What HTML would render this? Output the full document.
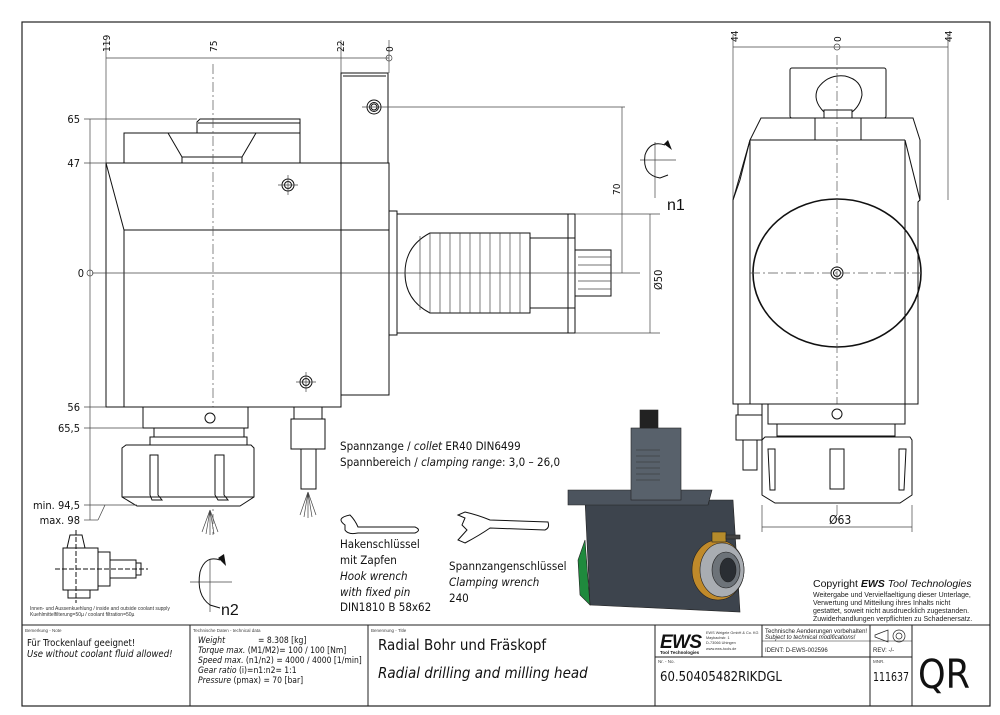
<!DOCTYPE html>
<html><head><meta charset="utf-8"><style>
html,body{margin:0;padding:0;background:#fff;}
svg{display:block;font-family:"Liberation Sans",sans-serif;}
.l{stroke:#111;stroke-width:1;fill:none}
.f{stroke:#111;stroke-width:1;fill:#fff}
.t{stroke:#444;stroke-width:0.7;fill:none}
.c{stroke:#555;stroke-width:0.7;fill:none;stroke-dasharray:10,3,2,3}
.n{font-family:"DejaVu Sans Condensed","Liberation Sans Narrow","Liberation Sans",sans-serif;fill:#111}
</style></head><body>
<svg width="1000" height="715" viewBox="0 0 1000 715" xmlns="http://www.w3.org/2000/svg">
<rect x="22" y="22" width="968" height="684" fill="none" stroke="#222" stroke-width="1.2"/>

<!-- ========== FRONT VIEW ========== -->
<line class="t" x1="106" y1="58" x2="389" y2="58"/>
<line class="t" x1="106" y1="40" x2="106" y2="163"/>
<line class="t" x1="341" y1="40" x2="341" y2="73"/>
<line class="t" x1="389" y1="40" x2="389" y2="73"/>
<circle cx="389" cy="58" r="3" class="t"/>
<g class="n" font-size="10">
<text transform="translate(110,52) rotate(-90)">119</text>
<text transform="translate(217,52) rotate(-90)">75</text>
<text transform="translate(344,52) rotate(-90)">22</text>
<text transform="translate(393,52) rotate(-90)">0</text>
</g>
<rect class="f" x="341" y="73" width="47" height="90"/>
<line class="l" x1="343" y1="76" x2="386" y2="76"/>
<circle cx="374" cy="107" r="7" class="l"/><circle cx="374" cy="107" r="4.5" class="l"/><circle cx="374" cy="107" r="3" class="l"/>
<line class="t" x1="362" y1="107" x2="625" y2="107"/>
<rect class="f" x="124" y="133" width="176" height="30"/>
<path class="f" d="M197 133 V122 L200 119 H300 V133 Z"/>
<line class="l" x1="198" y1="123" x2="300" y2="123"/>
<path class="l" d="M168 133 L182 157 H242 L256 133"/>
<line class="l" x1="182" y1="157" x2="182" y2="163"/><line class="l" x1="242" y1="157" x2="242" y2="163"/>
<path class="f" d="M106 163 H389 V395 H341 V407 H106 Z"/>
<path class="l" d="M106 163 L124 230 V407"/>
<line class="l" x1="124" y1="230" x2="389" y2="230"/>
<line class="l" x1="341" y1="163" x2="341" y2="395"/>
<circle cx="288" cy="185" r="6" class="l"/><circle cx="288" cy="185" r="3.5" class="l"/>
<line class="t" x1="278" y1="185" x2="298" y2="185"/><line class="t" x1="288" y1="175" x2="288" y2="195"/>
<circle cx="306" cy="382" r="6" class="l"/><circle cx="306" cy="382" r="3.5" class="l"/>
<line class="t" x1="296" y1="382" x2="316" y2="382"/><line class="t" x1="306" y1="372" x2="306" y2="392"/>
<path class="f" d="M389 211 H397 V335 H389 Z"/>
<rect class="f" x="397" y="214" width="178" height="119"/>
<line class="l" x1="568" y1="214" x2="568" y2="333"/>
<path class="f" d="M430 233 H530 V313 H430 Q405 300 405 273 Q405 246 430 233 Z"/>
<g class="t">
<line x1="420" y1="236" x2="420" y2="310"/><line x1="430" y1="233" x2="430" y2="313"/><line x1="440" y1="233" x2="440" y2="313"/><line x1="450" y1="233" x2="450" y2="313"/><line x1="460" y1="233" x2="460" y2="313"/><line x1="470" y1="233" x2="470" y2="313"/><line x1="480" y1="233" x2="480" y2="313"/><line x1="490" y1="233" x2="490" y2="313"/><line x1="500" y1="233" x2="500" y2="313"/><line x1="510" y1="233" x2="510" y2="313"/><line x1="520" y1="233" x2="520" y2="313"/>
</g>
<line class="l" x1="530" y1="238" x2="575" y2="238"/><line class="l" x1="530" y1="308" x2="575" y2="308"/>
<rect class="f" x="575" y="250" width="36" height="46"/>
<g class="t"><line x1="578" y1="257" x2="611" y2="257"/><line x1="578" y1="265" x2="611" y2="265"/><line x1="578" y1="273" x2="611" y2="273"/><line x1="578" y1="281" x2="611" y2="281"/><line x1="578" y1="289" x2="611" y2="289"/></g>
<line class="c" x1="213" y1="64" x2="213" y2="535"/>
<line class="t" x1="92" y1="273" x2="640" y2="273"/>
<line class="t" x1="575" y1="214" x2="660" y2="214"/><line class="t" x1="575" y1="333" x2="660" y2="333"/>
<line class="t" x1="622" y1="107" x2="622" y2="273"/>
<line class="t" x1="650" y1="214" x2="650" y2="333"/>
<text class="n" font-size="10" transform="translate(620,195) rotate(-90)">70</text>
<text class="n" font-size="11" transform="translate(662,290) rotate(-90)">Ø50</text>
<line class="t" x1="640" y1="160" x2="676" y2="160"/><line class="t" x1="655" y1="142" x2="655" y2="198"/>
<path class="l" d="M665 145 Q650 140 645 155 Q642 175 660 178 L668 175"/>
<path d="M664 144 L672 150 L668 140 Z" fill="#111"/>
<text x="667" y="210" font-size="16" fill="#111">n1</text>
<rect class="f" x="143" y="407" width="105" height="21"/>
<circle cx="210" cy="418" r="5" class="l"/>
<rect class="f" x="154" y="428" width="90" height="9"/>
<rect class="f" x="150" y="437" width="97" height="8"/>
<path class="f" d="M122 448 L126 445 H251 L254 448 V497 L240 506 H137 L122 497 Z"/>
<line class="l" x1="122" y1="497" x2="254" y2="497"/>
<path class="l" d="M150 455 H158 V495 L162 500 H152 L150 495 Z"/>
<path class="l" d="M215 455 H224 V495 L228 500 H218 L215 495 Z"/>
<rect class="f" x="294" y="407" width="28" height="12"/>
<rect class="f" x="291" y="419" width="34" height="30"/>
<rect class="f" x="301" y="449" width="15" height="40"/>
<g class="t"><path d="M308 492 L300 515 M308 492 L304 517 M308 492 L308 518 M308 492 L312 517 M308 492 L316 515"/>
<path d="M210 510 L202 532 M210 510 L206 534 M210 510 L210 535 M210 510 L214 534 M210 510 L218 532"/></g>
<line class="t" x1="90" y1="119" x2="90" y2="520"/>
<g class="t"><line x1="84" y1="119" x2="197" y2="119"/><line x1="84" y1="163" x2="106" y2="163"/><line x1="84" y1="407" x2="106" y2="407"/><line x1="84" y1="428" x2="143" y2="428"/><line x1="84" y1="505" x2="137" y2="505"/><line x1="84" y1="520" x2="98" y2="520"/><line x1="98" y1="520" x2="105" y2="505"/></g>
<circle cx="90" cy="273" r="3" class="t"/>
<g class="n" font-size="11" text-anchor="end">
<text x="80" y="123">65</text><text x="80" y="167">47</text><text x="84" y="277">0</text>
<text x="80" y="411">56</text><text x="80" y="432">65,5</text>
<text x="80" y="509">min. 94,5</text><text x="80" y="524">max. 98</text>
</g>
<g class="n" font-size="11.5">
<text x="340" y="450">Spannzange / <tspan font-style="italic">collet</tspan>    ER40    DIN6499</text>
<text x="340" y="466">Spannbereich / <tspan font-style="italic">clamping range</tspan>: 3,0 – 26,0</text>
<text x="340" y="548">Hakenschlüssel</text>
<text x="340" y="564">mit Zapfen</text>
<text x="340" y="580" font-style="italic">Hook wrench</text>
<text x="340" y="596" font-style="italic">with fixed pin</text>
<text x="340" y="611">DIN1810  B  58x62</text>
<text x="449" y="570">Spannzangenschlüssel</text>
<text x="449" y="586" font-style="italic">Clamping wrench</text>
<text x="449" y="602">240</text>
</g>
<path class="l" d="M345 525 Q335 518 350 515 Q355 520 358 527 H415 Q422 530 415 533 H358 Q348 535 345 530 Z"/>
<path class="l" d="M458 515 L465 518 L462 525 L467 530 L458 540 L465 543 Q480 535 490 528 L545 530 Q550 528 548 522 L490 520 Q478 515 465 512 Z"/>
<line class="t" x1="190" y1="582" x2="232" y2="582"/><line class="t" x1="210" y1="560" x2="210" y2="612"/>
<path class="l" d="M220 560 Q205 555 200 572 Q196 595 210 605 L220 608"/>
<path d="M218 558 L226 566 L224 554 Z" fill="#111"/>
<text x="221" y="615" font-size="16" fill="#111">n2</text>
<g class="l" stroke-width="0.8">
<path d="M63 548 V590 H98 V548 Z"/><path d="M67 548 L70 535 H82 L85 548"/>
<rect x="98" y="552" width="12" height="34"/><rect x="110" y="560" width="26" height="18"/><rect x="136" y="563" width="5" height="12"/>
<rect x="68" y="590" width="22" height="8"/>
<line x1="55" y1="569" x2="148" y2="569" stroke-dasharray="5,2"/>
<line x1="76" y1="530" x2="76" y2="603" stroke-dasharray="5,2"/>
</g>
<text x="30" y="610" font-size="5" fill="#333">Innen- und Aussenkuehlung / inside and outside coolant supply</text>
<text x="30" y="616" font-size="5" fill="#333">Kuehlmittelfilterung=50µ / coolant filtration=50µ</text>

<!-- ========== SIDE VIEW ========== -->
<line class="t" x1="733" y1="47" x2="948" y2="47"/>
<line class="t" x1="733" y1="35" x2="733" y2="200"/><line class="t" x1="948" y1="35" x2="948" y2="200"/>
<circle cx="837" cy="47" r="3" class="t"/>
<g class="n" font-size="10">
<text transform="translate(738,42) rotate(-90)">44</text>
<text transform="translate(841,42) rotate(-90)">0</text>
<text transform="translate(952,42) rotate(-90)">44</text>
</g>
<rect class="f" x="790" y="68" width="96" height="50" rx="2"/>
<path class="f" d="M824 112 Q812 100 818 88 Q828 74 845 76 Q862 80 862 95 Q860 106 852 112 Z"/>
<rect class="f" x="824" y="110" width="28" height="10"/>
<path class="f" d="M761 118 H913 L920 140 V200 L918 202 V404 H733 V200 L740 180 L750 140 Z"/>
<path class="l" d="M733 200 L750 140"/><path class="l" d="M920 200 L905 140"/>
<line class="l" x1="750" y1="140" x2="905" y2="140"/>
<line class="l" x1="750" y1="140" x2="750" y2="404"/><line class="l" x1="905" y1="140" x2="905" y2="404"/>
<rect class="l" x="815" y="118" width="46" height="22"/>
<ellipse cx="837" cy="273" rx="84" ry="74" fill="none" stroke="#111" stroke-width="1.6"/>
<circle cx="837" cy="273" r="6" class="l"/><circle cx="837" cy="273" r="3.5" class="l"/>
<line class="c" x1="837" y1="55" x2="837" y2="520"/>
<line class="c" x1="750" y1="273" x2="925" y2="273"/>
<rect class="f" x="768" y="404" width="137" height="20"/>
<circle cx="837" cy="414" r="5" class="l"/>
<rect class="f" x="777" y="424" width="118" height="12"/>
<path class="f" d="M762 440 L765 437 H910 L912 440 V495 L900 503 H775 L762 495 Z"/>
<rect class="l" x="830" y="449" width="14" height="40"/>
<path class="l" d="M768 449 H775 V490 H770 Z"/><path class="l" d="M906 449 H899 V490 H904 Z"/>
<rect class="f" x="738" y="404" width="24" height="11"/>
<rect class="f" x="736" y="415" width="26" height="25"/>
<rect class="f" x="743" y="440" width="14" height="30"/>
<line class="t" x1="762" y1="505" x2="762" y2="532"/><line class="t" x1="912" y1="505" x2="912" y2="532"/>
<line class="t" x1="762" y1="527" x2="912" y2="527"/>
<text class="n" x="829" y="524" font-size="12">Ø63</text>

<!-- 3D render -->
<g stroke="#222" stroke-width="0.6">
<path d="M590 605 L585 500 L733 500 L740 612 Z" fill="#3d444d"/>
<path d="M568 490 H712 L708 505 H568 Z" fill="#4c545e"/>
<rect x="631" y="428" width="50" height="72" fill="#58616b"/>
<rect x="640" y="410" width="18" height="18" fill="#222"/>
<g stroke="#333"><line x1="636" y1="450" x2="660" y2="450"/><line x1="636" y1="456" x2="660" y2="456"/><line x1="636" y1="462" x2="660" y2="462"/><line x1="636" y1="468" x2="660" y2="468"/><line x1="636" y1="474" x2="660" y2="474"/><line x1="636" y1="480" x2="660" y2="480"/></g>
<path d="M585 540 L578 560 L580 595 L590 605 Z" fill="#1f8a3d"/>
<ellipse cx="718" cy="570" rx="26" ry="30" fill="#c08a2a"/>
<ellipse cx="722" cy="570" rx="22" ry="27" fill="#a9adb2"/>
<ellipse cx="726" cy="570" rx="14" ry="18" fill="#6d7379"/>
<ellipse cx="728" cy="570" rx="8" ry="12" fill="#2a2e33"/>
<rect x="712" y="532" width="14" height="10" fill="#b58b2b"/>
<rect x="726" y="535" width="14" height="4" fill="#444"/>
</g>
<text x="813" y="587" font-size="10.5" fill="#111">Copyright <tspan font-weight="bold" font-style="italic">EWS</tspan> <tspan font-style="italic">Tool Technologies</tspan></text>
<g font-size="7" fill="#222">
<text x="813" y="597">Weitergabe und Vervielfaeltigung dieser Unterlage,</text>
<text x="813" y="605">Verwertung und Mitteilung ihres Inhalts nicht</text>
<text x="813" y="613">gestattet, soweit nicht ausdruecklich zugestanden.</text>
<text x="813" y="621">Zuwiderhandlungen verpflichten zu Schadenersatz.</text>
</g>

<!-- ========== TITLE BLOCK ========== -->
<g stroke="#222" stroke-width="1" fill="none">
<line x1="22" y1="625" x2="990" y2="625"/>
<line x1="190" y1="625" x2="190" y2="706"/>
<line x1="368" y1="625" x2="368" y2="706"/>
<line x1="655" y1="625" x2="655" y2="706"/>
<line x1="762" y1="625" x2="762" y2="657"/>
<line x1="870" y1="625" x2="870" y2="706"/>
<line x1="912" y1="625" x2="912" y2="706"/>
<line x1="655" y1="657" x2="912" y2="657"/>
<line x1="762" y1="641" x2="912" y2="641" stroke-width="0.5"/>
</g>
<g font-size="4.5" fill="#444">
<text x="25" y="632">Bemerkung - Note</text>
<text x="193" y="632">Technische Daten - technical data</text>
<text x="371" y="632">Benennung - Title</text>
<text x="658" y="663">Nr. - No.</text>
<text x="873" y="663">MNR.</text>
</g>
<g class="n" font-size="9.5">
<text x="27" y="646">Für Trockenlauf geeignet!</text>
<text x="27" y="657" font-style="italic">Use without coolant fluid allowed!</text>
</g>
<g class="n" font-size="8.5">
<text x="198" y="643" font-style="italic">Weight</text><text x="258" y="643">= 8.308 [kg]</text>
<text x="198" y="653"><tspan font-style="italic">Torque max.</tspan> (M1/M2)= 100 / 100 [Nm]</text>
<text x="198" y="663"><tspan font-style="italic">Speed max.</tspan> (n1/n2) = 4000 / 4000 [1/min]</text>
<text x="198" y="673"><tspan font-style="italic">Gear ratio</tspan>  (i)=n1:n2= 1:1</text>
<text x="198" y="683"><tspan font-style="italic">Pressure</tspan>    (pmax) = 70 [bar]</text>
</g>
<g class="n" font-size="15">
<text x="378" y="650">Radial Bohr und Fräskopf</text>
<text x="378" y="678" font-style="italic">Radial drilling and milling head</text>
</g>
<text x="660" y="648" font-size="19" font-weight="bold" font-style="italic" fill="#111" textLength="42">EWS</text>
<text x="660" y="654" font-size="4.5" font-weight="bold" fill="#111">Tool Technologies</text>
<g font-size="3.8" fill="#333"><text x="706" y="634">EWS Weigele GmbH &amp; Co. KG</text><text x="706" y="639">Maybachstr. 1</text><text x="706" y="644">D-73066 Uhingen</text><text x="706" y="650">www.ews-tools.de</text></g>
<g font-size="6" fill="#222">
<text x="765" y="633">Technische Aenderungen vorbehalten!</text>
<text x="765" y="639" font-style="italic">Subject to technical modifications!</text>
<text x="765" y="652">IDENT:  D-EWS-002596</text>
<text x="873" y="652">REV:  -/-</text>
</g>
<path d="M875 635 L888 630 V642 L875 637 Z" fill="none" stroke="#222" stroke-width="0.7"/>
<circle cx="899" cy="636" r="6" fill="none" stroke="#222" stroke-width="0.7"/><circle cx="899" cy="636" r="3" fill="none" stroke="#222" stroke-width="0.7"/>
<text class="n" x="660" y="681" font-size="13">60.50405482RIKDGL</text>
<text class="n" x="873" y="681" font-size="12" textLength="36" lengthAdjust="spacingAndGlyphs">111637</text>
<text x="918" y="688" font-size="40" fill="#111" font-family="'DejaVu Sans Condensed','Liberation Sans Narrow',sans-serif" textLength="52" lengthAdjust="spacingAndGlyphs">QR</text>
</svg>
</body></html>
